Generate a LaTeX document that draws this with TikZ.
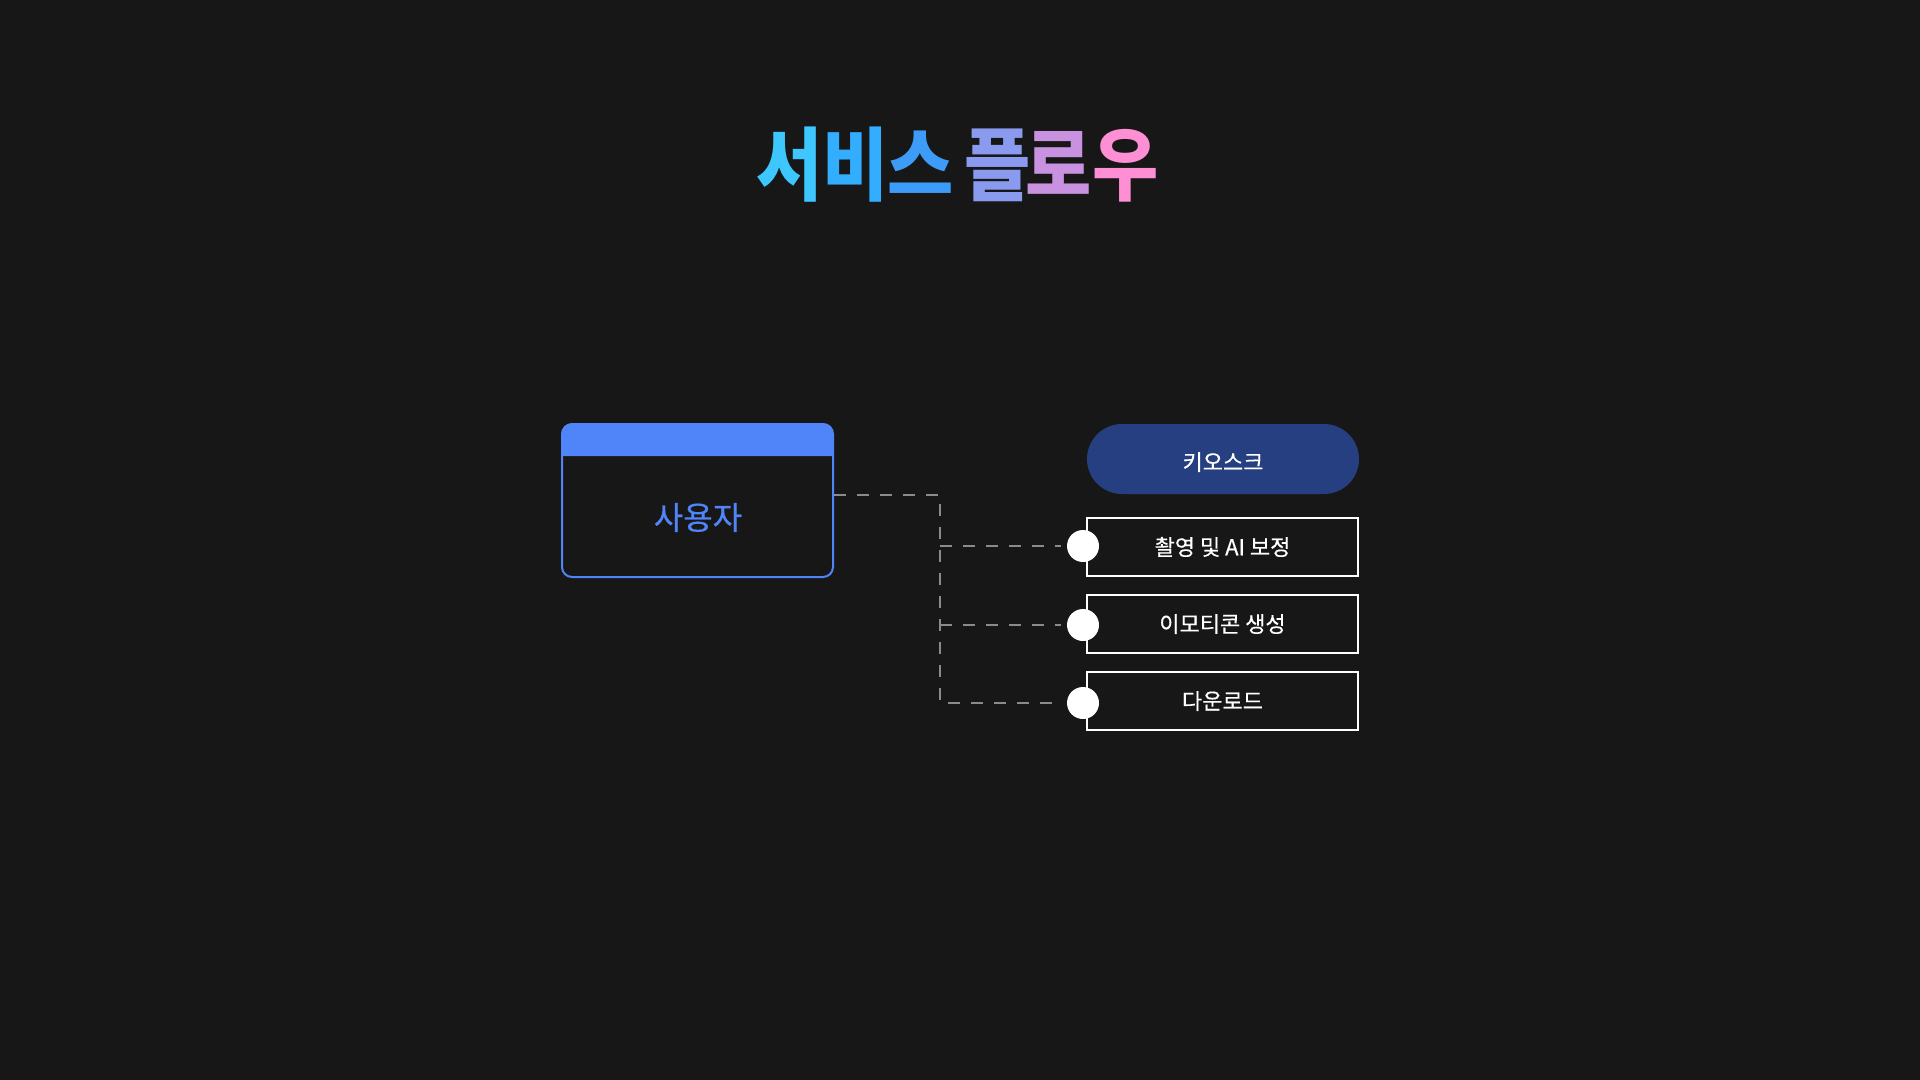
\documentclass[tikz,border=0pt]{standalone}
\usepackage{fontspec}
\newfontfamily\kr{Noto Sans CJK KR}
\newfontfamily\krm[FakeBold=0.4]{Noto Sans CJK KR}
\definecolor{bg}{HTML}{171717}
\definecolor{hdr}{HTML}{5085FA}
\definecolor{pill}{HTML}{253F80}
\definecolor{dash}{HTML}{8C8A90}
\definecolor{tA}{HTML}{3EC6FF}
\definecolor{tB}{HTML}{33AEFF}
\definecolor{tC}{HTML}{3C9CF8}
\definecolor{tD}{HTML}{8A9AEE}
\definecolor{tE}{HTML}{C892E0}
\definecolor{tF}{HTML}{FF8FD4}
\begin{document}
\begin{tikzpicture}[x=0.5pt,y=-0.5pt,
  titlech/.style={font=\kr\bfseries\fontsize{40}{40}\selectfont, inner sep=0pt, anchor=base, xscale=0.9},
  stepbox/.style={draw=white, line width=1pt, fill=bg, minimum width=135.5pt, minimum height=29pt, inner sep=0pt, text=white, font=\krm\fontsize{11}{13}\selectfont},
  pillbox/.style={fill=pill, rounded corners=17.5pt, minimum width=136pt, minimum height=35pt, inner sep=0pt, text=white, font=\krm\fontsize{11}{13}\selectfont},
  dot/.style={circle, fill=white, minimum size=16pt, inner sep=0pt},
  conn/.style={draw=dash, line width=1pt, dash pattern=on 6pt off 5.5pt}
]
\fill[bg] (0,0) rectangle (1920,1080);
\useasboundingbox (0,0) rectangle (1920,1080);

% title
\node[titlech, text=tA] (t1) at (790,195) {서};
\node[titlech, text=tB] (t2) at (856,195) {비};
\node[titlech, text=tC] (t3) at (921,195) {스};
\node[titlech, text=tD] (t4) at (998,195) {플};
\node[titlech, text=tE] (t5) at (1059,195) {로};
\node[titlech, text=tF] (t6) at (1126,195) {우};

% user box
\fill[hdr] (562,456) [rounded corners=5pt] -- (562,424) -- (833,424) [sharp corners] -- (833,456) -- cycle;
\node[draw=hdr, line width=1pt, rounded corners=5pt, minimum width=135.5pt, minimum height=76.5pt, inner sep=0pt] (user) at (697.5,500.5) {};
\node[font=\krm\fontsize{16}{18}\selectfont, text=hdr, inner sep=0pt] (userlbl) at (698,517.5) {사용자};

% kiosk
\node[pillbox] (kiosk) at (1223,459) {};
\node[font=\krm\fontsize{11}{13}\selectfont, text=white, inner sep=0pt] (kiosklbl) at (1223,462) {키오스크};
\node[stepbox] (b1) at (1222.5,547) {촬영 및 AI 보정};
\node[stepbox] (b2) at (1222.5,624) {이모티콘 생성};
\node[stepbox] (b3) at (1222.5,701) {다운로드};

\node[dot] (c1) at (1083,546) {};
\node[dot] (c2) at (1083,625) {};
\node[dot] (c3) at (1083,703) {};

% connectors
\coordinate (j0) at (940,495);
\draw[conn] (user.east |- j0) -- (j0) -- (j0 |- c3) -- ([xshift=-3pt]c3.west);
\draw[conn] (j0 |- c1) -- ([xshift=-3pt]c1.west);
\draw[conn] (j0 |- c2) -- ([xshift=-3pt]c2.west);
\end{tikzpicture}
\end{document}
